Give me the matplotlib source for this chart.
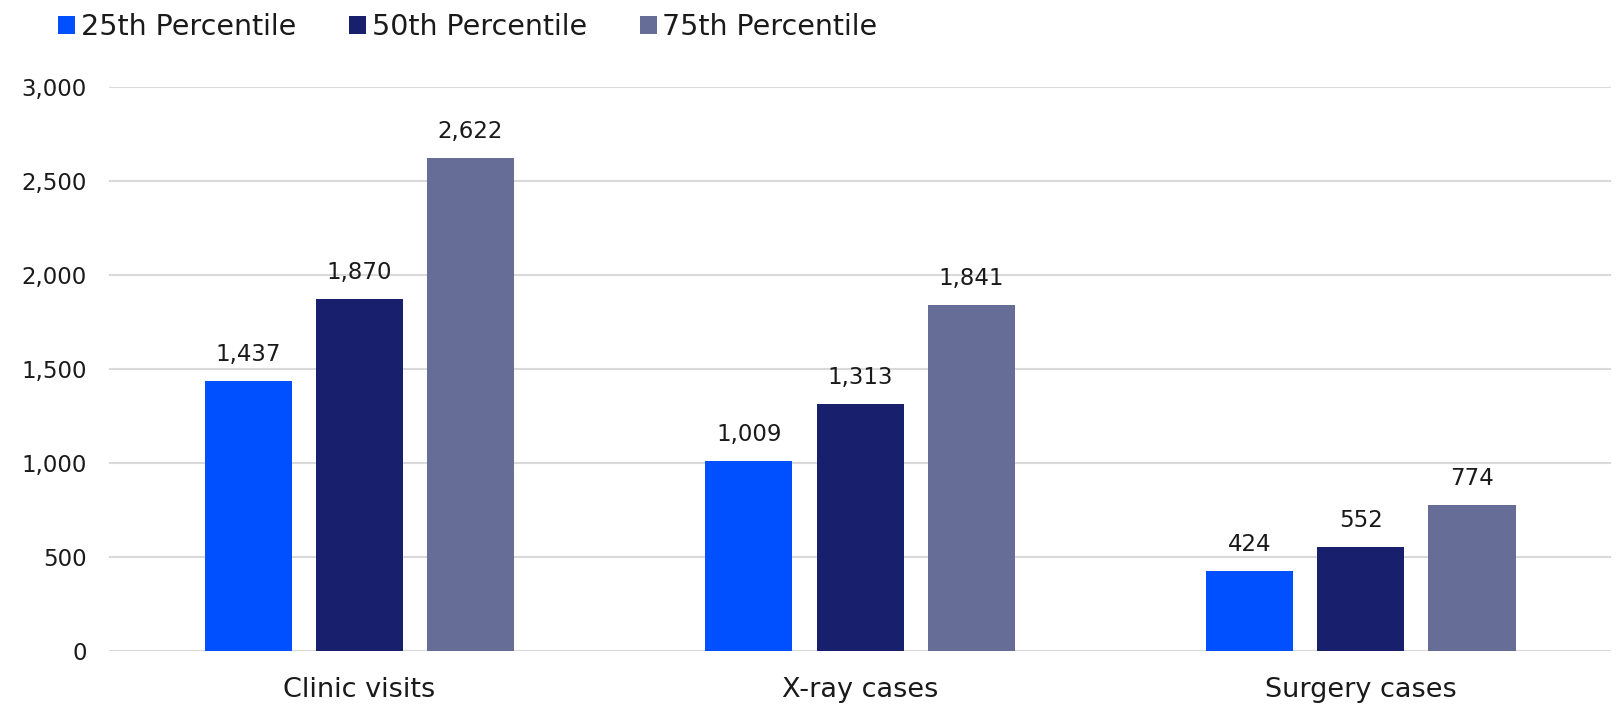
import matplotlib
matplotlib.use("Agg")
import matplotlib.pyplot as plt
from matplotlib.patches import Patch
from matplotlib.ticker import FuncFormatter, MultipleLocator
import numpy as np

plt.rcParams['font.family'] = ['DejaVu Sans']

categories = ["Clinic visits", "X-ray cases", "Surgery cases"]
series_names = ["25th Percentile", "50th Percentile", "75th Percentile"]
p25 = [1437, 1009, 424]
p50 = [1870, 1313, 552]
p75 = [2622, 1841, 774]
colors = ["#0050FF", "#181F6C", "#666E98"]

fig = plt.figure(figsize=(16.17, 7.04), dpi=100)
ax = fig.add_axes([0.0674, 0.0753, 0.929, 0.8011])

x = np.arange(len(categories))
width = 0.174
step = 0.222
for i, (vals, col, name) in enumerate(zip([p25, p50, p75], colors, series_names)):
    pos = x + (i - 1) * step
    bars = ax.bar(pos, vals, width=width, color=col, zorder=3, label=name)
    for b, v in zip(bars, vals):
        ax.annotate(f"{v:,}", (b.get_x() + b.get_width() / 2, v),
                    xytext=(0, 11), textcoords="offset points",
                    ha="center", va="bottom", fontsize=16.5, color="#1a1a1a")

ax.set_xlim(-0.5, 2.5)
ax.set_ylim(0, 3000)
ax.yaxis.set_major_locator(MultipleLocator(500))
ax.yaxis.set_major_formatter(FuncFormatter(lambda v, p: f"{int(v):,}"))
ax.grid(axis="y", color="#d9d9d9", linewidth=1.5, zorder=0)
for s in ax.spines.values():
    s.set_visible(False)
ax.tick_params(axis="y", length=0, pad=16, labelsize=16.5, labelcolor="#1a1a1a")
ax.tick_params(axis="x", length=0, pad=19, labelsize=19.5, labelcolor="#1a1a1a")
ax.set_xticks(x)
ax.set_xticklabels(categories)

handles = [Patch(facecolor=c, edgecolor="none") for c in colors]
fig.legend(handles, series_names, loc="upper left", bbox_to_anchor=(0.0255, 1.006),
           ncol=3, frameon=False, fontsize=20.5, handlelength=0.6, handleheight=0.6,
           handletextpad=0.2, columnspacing=1.85, borderaxespad=0.2,
           labelcolor="#1a1a1a")

fig.savefig("out.png", dpi=100)
